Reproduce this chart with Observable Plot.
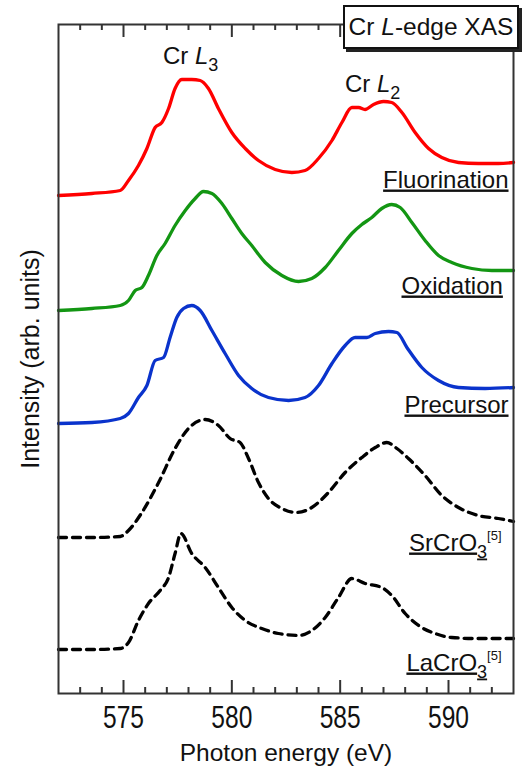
<!DOCTYPE html>
<html>
<head>
<meta charset="utf-8">
<script src="https://cdn.jsdelivr.net/npm/d3@7"></script>
<script src="https://cdn.jsdelivr.net/npm/@observablehq/plot@0.6"></script>
<style>
  html, body { margin: 0; padding: 0; background: #fff; }
  #wrap { position: relative; width: 527px; height: 767px; font-family: "Liberation Sans", Arial, sans-serif; }
  #title {
    position: absolute; left: 343px; top: 5px; width: 172px; height: 40px;
    border: 2px solid #111; background: #fff; box-shadow: 3px 3px 0 #222;
    font-size: 24.5px; line-height: 40px; color: #111; text-align: center; white-space: nowrap;
  }
</style>
</head>
<body>
<div id="wrap"><div id="title">Cr <i>L</i>-edge XAS</div></div>
<script>
// Photon energy (eV), intensity (arb. units, stacked with vertical offsets as in the figure)
const fluorination = [
  [572,4.98],[573.54,5.00],[574.85,5.03],[575.23,5.13],[575.69,5.28],[576.08,5.45],[576.46,5.66],
  [576.77,5.71],[577.08,5.85],[577.38,6.05],[577.69,6.14],[578.15,6.14],[578.54,6.13],[578.92,6.05],
  [579.38,5.85],[580.0,5.61],[580.62,5.45],[581.23,5.33],[582.0,5.24],[582.77,5.21],[583.38,5.23],
  [584.0,5.35],[584.62,5.53],[585.08,5.71],[585.54,5.86],[585.85,5.86],[586.15,5.84],[586.54,5.89],
  [587.0,5.92],[587.38,5.91],[587.85,5.81],[588.46,5.61],[589.08,5.45],[589.69,5.36],[590.46,5.31],
  [591.38,5.30],[592.3,5.30],[593.0,5.31]
];
const oxidation = [
  [572,3.83],[573.54,3.85],[574.85,3.88],[575.23,3.93],[575.54,4.03],[575.85,4.06],[576.15,4.18],
  [576.54,4.38],[576.92,4.50],[577.38,4.68],[577.85,4.83],[578.31,4.95],[578.69,5.02],[579.08,5.00],
  [579.54,4.90],[580.0,4.75],[580.46,4.60],[580.92,4.48],[581.54,4.31],[582.31,4.18],[583.08,4.12],
  [583.69,4.15],[584.31,4.26],[584.92,4.43],[585.54,4.60],[586.0,4.69],[586.46,4.76],[586.92,4.85],
  [587.38,4.89],[587.77,4.86],[588.31,4.71],[588.92,4.53],[589.54,4.38],[590.15,4.31],[591.08,4.25],
  [592.0,4.23],[593.0,4.23]
];
const precursor = [
  [572,2.70],[573.54,2.71],[574.85,2.75],[575.23,2.80],[575.69,2.96],[576.08,3.08],[576.46,3.33],
  [576.85,3.36],[577.15,3.56],[577.46,3.76],[577.77,3.85],[578.15,3.88],[578.54,3.83],[579.08,3.63],
  [579.69,3.40],[580.31,3.18],[580.92,3.05],[581.69,2.96],[582.62,2.93],[583.38,2.96],[584.0,3.08],
  [584.62,3.30],[585.23,3.48],[585.69,3.56],[586.23,3.56],[586.62,3.60],[587.23,3.62],[587.62,3.61],
  [588.08,3.46],[588.77,3.26],[589.54,3.13],[590.46,3.06],[591.69,3.05],[593.0,3.06]
];
const srcro3 = [
  [572,1.56],[573.54,1.56],[574.85,1.57],[575.23,1.63],[575.85,1.81],[576.62,2.11],[577.38,2.45],
  [578.0,2.65],[578.77,2.74],[579.38,2.68],[579.92,2.55],[580.38,2.51],[580.77,2.35],[581.23,2.11],
  [581.69,1.95],[582.31,1.85],[583.0,1.81],[583.69,1.86],[584.46,2.01],[585.23,2.21],[586.0,2.36],
  [586.62,2.46],[587.15,2.51],[587.62,2.45],[588.15,2.35],[588.92,2.18],[589.69,1.98],[590.46,1.86],
  [591.38,1.78],[592.3,1.75],[593.0,1.72]
];
const lacro3 = [
  [572,0.44],[573.54,0.44],[574.85,0.45],[575.23,0.51],[575.69,0.73],[576.15,0.90],[576.69,1.03],
  [577.08,1.16],[577.38,1.40],[577.65,1.60],[578.15,1.40],[578.77,1.26],[579.38,1.06],[580.0,0.86],
  [580.62,0.73],[581.38,0.65],[582.15,0.60],[583.08,0.58],[583.69,0.63],[584.31,0.76],[584.92,0.96],
  [585.54,1.15],[586.15,1.10],[586.92,1.06],[587.38,0.98],[588.0,0.80],[588.62,0.68],[589.38,0.60],
  [590.15,0.56],[591.23,0.55],[593.0,0.55]
];
const majorTicks = [575, 580, 585, 590];
const minorTicks = [573,574,576,577,578,579,581,582,583,584,586,587,588,589,591,592];

const FONT = "'Liberation Sans', Arial, sans-serif";
const yTop = 6.69;

const line = (data, stroke, dash) => Plot.line(data, {
  x: d => d[0], y: d => d[1], stroke, strokeWidth: 3.3,
  strokeDasharray: dash ? "8,6" : null, curve: "monotone-x"
});

const labelMark = (txt, x, y, anchor) => Plot.text([txt], {
  x, y, text: d => d, textAnchor: anchor, lineAnchor: "bottom", fill: "#111", fontSize: 24
});

const svg = Plot.plot({
  width: 527, height: 767,
  marginTop: 24, marginBottom: 74, marginLeft: 58, marginRight: 14,
  x: { domain: [572, 593], axis: null },
  y: { domain: [0, yTop], axis: null },
  style: { fontFamily: FONT, fontSize: "24px", background: "white", color: "#111" },
  marks: [
    line(lacro3, "#000", true),
    line(srcro3, "#000", true),
    line(precursor, "#0a33cc", false),
    line(oxidation, "#139613", false),
    line(fluorination, "#ff0000", false),
    Plot.frame({ stroke: "#333", strokeWidth: 2 }),
    Plot.ruleX(majorTicks, { x: d => d, y1: 0, y2: 0.13, stroke: "#333", strokeWidth: 2 }),
    Plot.ruleX(minorTicks, { x: d => d, y1: 0, y2: 0.06, stroke: "#333", strokeWidth: 2 }),
    Plot.ruleX(majorTicks, { x: d => d, y1: yTop, y2: yTop - 0.13, stroke: "#333", strokeWidth: 2 }),
    Plot.ruleX(minorTicks, { x: d => d, y1: yTop, y2: yTop - 0.06, stroke: "#333", strokeWidth: 2 }),
    Plot.text(majorTicks, { x: d => d, frameAnchor: "bottom", dy: 12, lineAnchor: "top",
      text: d => String(d), fill: "#111", fontSize: 31 }),
    Plot.text(["Photon energy (eV)"], { frameAnchor: "bottom", dy: 50, lineAnchor: "top",
      text: d => d, fill: "#111", fontSize: 24.5 }),
    Plot.text(["Intensity (arb. units)"], { frameAnchor: "left", textAnchor: "middle", dx: -28, rotate: -90,
      text: d => d, fill: "#111", fontSize: 25 }),
    labelMark("Cr L3", 576.82, 6.30, "start"),
    labelMark("Cr L2", 585.22, 6.02, "start"),
    labelMark("Fluorination", 592.77, 5.06, "end"),
    labelMark("Oxidation", 592.51, 4.00, "end"),
    labelMark("Precursor", 592.77, 2.81, "end"),
    labelMark("SrCrO3", 592.45, 1.43, "end"),
    labelMark("LaCrO3", 592.45, 0.23, "end")
  ]
});

// Tick labels in the figure are drawn in a tall, narrow face: compress horizontally
const tickSet = new Set(majorTicks.map(String));
d3.select(svg).selectAll("text").each(function () {
  if (tickSet.has(this.textContent)) {
    d3.select(this).attr("textLength", 41).attr("lengthAdjust", "spacingAndGlyphs");
  }
});

// Rich text: italics, subscripts, superscripts and underlines
const rich = {
  "Cr L3": [{t: "Cr "}, {t: "L", i: true}, {t: "3", sub: true}],
  "Cr L2": [{t: "Cr "}, {t: "L", i: true}, {t: "2", sub: true}],
  "Fluorination": [{t: "Fluorination", u: true}],
  "Oxidation": [{t: "Oxidation", u: true}],
  "Precursor": [{t: "Precursor", u: true}],
  "SrCrO3": [{t: "SrCrO", u: true}, {t: "3", sub: true, u: true}, {t: "[5]", sup: true}],
  "LaCrO3": [{t: "LaCrO", u: true}, {t: "3", sub: true, u: true}, {t: "[5]", sup: true}]
};
d3.select(svg).selectAll("text").each(function () {
  const key = this.textContent;
  if (!(key in rich)) return;
  const el = d3.select(this);
  el.text(null);
  let cur = 0;
  for (const p of rich[key]) {
    const target = p.sub ? 7 : p.sup ? -11 : 0;
    const ts = el.append("tspan").text(p.t);
    if (target !== cur) ts.attr("dy", target - cur);
    cur = target;
    if (p.i) ts.attr("font-style", "italic");
    if (p.sub) ts.attr("font-size", 18);
    if (p.sup) ts.attr("font-size", 13);
    if (p.u) ts.style("text-decoration", "underline");
  }
});

document.getElementById("wrap").prepend(svg);
</script>
</body>
</html>
